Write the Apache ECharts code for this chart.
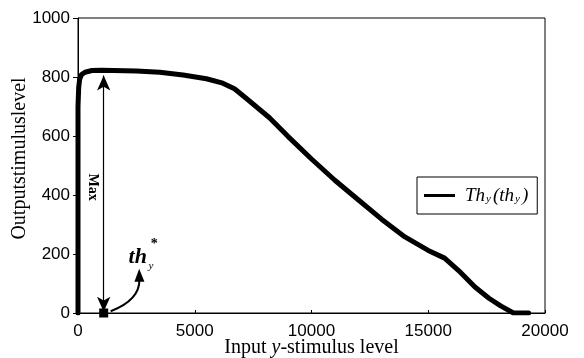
<!DOCTYPE html>
<html>
<head>
<meta charset="utf-8">
<script src="https://cdn.jsdelivr.net/npm/echarts@6/dist/echarts.min.js"></script>
<style>html,body{margin:0;padding:0;background:#fff;}#c{width:584px;height:358px;}</style>
</head>
<body>
<div id="c"></div>
<script>
// Input y-stimulus level
const inputLevels = [0, 0, 30, 70, 150, 300, 600, 1000, 1500, 2500, 3500, 4500, 5500, 6200, 6700, 7200, 8200, 9000, 10000, 11000, 12000, 13000, 14000, 15000, 15700, 16300, 17000, 17600, 18100, 18650, 19300];
// Output stimulus level
const outputLevels = [0, 700, 765, 792, 808, 816, 822, 823, 822, 820, 816, 807, 794, 779, 760, 728, 662, 598, 522, 450, 384, 318, 258, 212, 186, 144, 88, 50, 24, 0, 0];
const seriesName = 'Thy(thy)';
// annotations (data coordinates)
const maxArrowX = 1100, maxArrowTop = 805;
const thStar = [1100, 0];
const curvedArrowFrom = [1400, 6], curvedArrowTo = [2620, 150];

const serif = '"Liberation Serif", "DejaVu Serif", serif';
const sans = '"Liberation Sans", Arial, sans-serif';

const chart = echarts.init(document.getElementById('c'), null, {renderer: 'canvas'});
chart.setOption({
  animation: false,
  backgroundColor: '#fff',
  grid: {left: 78, right: 39, top: 18, bottom: 45, outerBoundsMode: 'none', containLabel: false,
    show: true, borderColor: '#000', borderWidth: 1, backgroundColor: 'transparent'},
  legend: {
    show: true,
    left: 417, top: 177,
    orient: 'vertical',
    data: [{name: seriesName, icon: 'rect'}],
    itemWidth: 31, itemHeight: 3,
    padding: [9, 9, 9, 7],
    borderColor: '#000', borderWidth: 1,
    itemStyle: {color: '#000'},
    formatter: () => '{g|}{i|Th}{s|y}{i|(th}{s|y}{i|)}',
    textStyle: {
      rich: {
        g: {width: 5},
        i: {fontFamily: serif, fontStyle: 'italic', fontSize: 19, color: '#000', lineHeight: 21},
        s: {fontFamily: serif, fontStyle: 'italic', fontSize: 11, color: '#000', padding: [8, 2, 0, 1], lineHeight: 21}
      }
    }
  },
  xAxis: {
    type: 'value', min: 0, max: 20000, interval: 5000,
    name: 'Input {i|y}-stimulus level',
    nameLocation: 'middle', nameGap: 35, nameMoveOverlap: false,
    nameTextStyle: {fontFamily: serif, fontSize: 20, color: '#000', verticalAlign: 'middle',
      rich: {i: {fontFamily: serif, fontStyle: 'italic', fontSize: 20, color: '#000'}}},
    axisLine: {show: true, lineStyle: {color: '#000', width: 1}},
    axisTick: {show: true, inside: true, length: 3, lineStyle: {color: '#000'}},
    axisLabel: {fontFamily: sans, fontSize: 17, color: '#000', margin: 10, formatter: v => String(v)},
    splitLine: {show: false}
  },
  yAxis: {
    type: 'value', min: 0, max: 1000, interval: 200,
    name: 'Outputstimuluslevel',
    nameLocation: 'middle', nameGap: 58, nameRotate: 90, nameMoveOverlap: false,
    nameTextStyle: {fontFamily: serif, fontSize: 20, color: '#000', verticalAlign: 'middle', padding: [0, 0, 0, 14]},
    axisLine: {show: true, lineStyle: {color: '#000', width: 1}},
    axisTick: {show: true, inside: false, length: 5, lineStyle: {color: '#000'}},
    axisLabel: {fontFamily: sans, fontSize: 17, color: '#000', margin: 8, formatter: v => String(v)},
    splitLine: {show: false}
  },
  series: [{
    name: seriesName,
    type: 'line',
    data: inputLevels.map((x, i) => [x, outputLevels[i]]),
    showSymbol: false,
    symbol: 'none',
    lineStyle: {color: '#000', width: 5, join: 'round', cap: 'round'},
    itemStyle: {color: '#000'},
    z: 3,
    markLine: {
      silent: true,
      animation: false,
      label: {show: false},
      lineStyle: {color: '#000', width: 1.2, type: 'solid'},
      data: [
        [{coord: [maxArrowX, 4], symbol: 'arrow', symbolSize: [10, 15]},
         {coord: [maxArrowX, maxArrowTop], symbol: 'arrow', symbolSize: [10, 15]}]
      ]
    },
    markPoint: {
      silent: true,
      animation: false,
      data: [
        {coord: thStar, symbol: 'rect', symbolSize: 9, itemStyle: {color: '#000'}, label: {show: false}},
        {coord: [640, 427], symbol: 'rect', symbolSize: 0, label: {show: true, position: 'inside', rotate: -90, formatter: 'Max', fontFamily: serif, fontWeight: 'bold', fontSize: 14, color: '#000'}},
        {coord: [2560, 189], symbol: 'rect', symbolSize: 0, label: {show: true, position: 'inside', formatter: 'th', fontFamily: serif, fontStyle: 'italic', fontWeight: 'bold', fontSize: 22, color: '#000'}},
        {coord: [3120, 160], symbol: 'rect', symbolSize: 0, label: {show: true, position: 'inside', formatter: 'y', fontFamily: serif, fontStyle: 'italic', fontSize: 11, color: '#000'}},
        {coord: [3270, 232], symbol: 'rect', symbolSize: 0, label: {show: true, position: 'inside', formatter: '*', fontFamily: serif, fontWeight: 'bold', fontSize: 14, color: '#000'}}
      ]
    }
  }]
});

// curved arrow annotation: positioned from data coordinates through the chart's scales
(function () {
  const p1 = chart.convertToPixel({gridIndex: 0}, curvedArrowFrom);
  const p2 = chart.convertToPixel({gridIndex: 0}, curvedArrowTo);
  const c = -0.35;
  const cp = [(p1[0] + p2[0]) / 2 - (p1[1] - p2[1]) * c, (p1[1] + p2[1]) / 2 - (p2[0] - p1[0]) * c];
  const dx = p2[0] - cp[0], dy = p2[1] - cp[1];
  const len = Math.hypot(dx, dy), ux = dx / len, uy = dy / len;
  const L = 13, W = 5;
  const base = [p2[0] - ux * L, p2[1] - uy * L];
  const head = [p2, [base[0] - uy * W, base[1] + ux * W], [base[0] + uy * W, base[1] - ux * W]];
  const lineEnd = [p2[0] - ux * (L - 2), p2[1] - uy * (L - 2)];
  chart.setOption({
    graphic: [
      {type: 'bezierCurve', silent: true, z: 10,
        shape: {x1: p1[0], y1: p1[1], x2: lineEnd[0], y2: lineEnd[1], cpx1: cp[0], cpy1: cp[1]},
        style: {stroke: '#000', lineWidth: 2, fill: null}},
      {type: 'polygon', silent: true, z: 10, shape: {points: head}, style: {fill: '#000'}}
    ]
  });
})();
</script>
</body>
</html>
